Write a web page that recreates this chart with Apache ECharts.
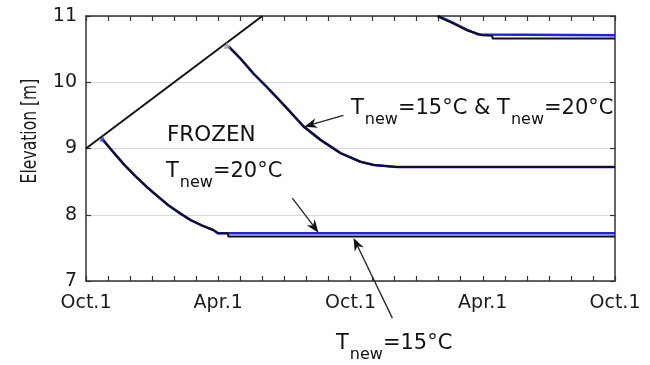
<!DOCTYPE html>
<html>
<head>
<meta charset="utf-8">
<style>
  html, body { margin: 0; padding: 0; background: #fff; }
  #chart { width: 650px; height: 365px; }
</style>
<script src="https://cdn.jsdelivr.net/npm/echarts@6/dist/echarts.min.js"></script>
</head>
<body>
<div id="chart"></div>
<script>
// Time axis: months after Oct.1, over two years
const xTickLabels = ['Oct.1', 'Apr.1', 'Oct.1', 'Apr.1', 'Oct.1'];
const yTicks = [7, 8, 9, 10, 11];

// Freezing front rising through the winter
const frostLine = [[0, 9.0], [8, 11.0]];

// First thaw (lower branch)
const lowT20 = [
  [0.77, 9.13], [1.25, 8.94], [1.75, 8.75], [2.25, 8.58], [2.76, 8.42],
  [3.25, 8.28], [3.75, 8.14], [4.27, 8.02], [4.75, 7.92], [5.25, 7.84],
  [5.77, 7.77], [6.0, 7.72], [24, 7.72]
];
const lowT15 = [
  [0.77, 9.13], [1.25, 8.94], [1.75, 8.75], [2.25, 8.58], [2.76, 8.42],
  [3.25, 8.28], [3.75, 8.14], [4.27, 8.02], [4.75, 7.92], [5.25, 7.84],
  [5.77, 7.77], [6.0, 7.72], [6.45, 7.72], [6.45, 7.67], [24, 7.67]
];

// Second thaw (middle branch), same for both temperatures
const midT20 = [
  [6.47, 10.54], [7.0, 10.36], [7.6, 10.13], [8.2, 9.93], [8.97, 9.66],
  [9.88, 9.33], [10.64, 9.13], [11.55, 8.93], [12.45, 8.80], [13.06, 8.75],
  [14.1, 8.72], [24, 8.72]
];
const midT15 = [
  [6.47, 10.54], [7.0, 10.36], [7.6, 10.13], [8.2, 9.93], [8.97, 9.66],
  [9.88, 9.33], [10.64, 9.13], [11.55, 8.93], [12.45, 8.80], [13.06, 8.75],
  [14.1, 8.72], [24, 8.72]
];

// Third thaw (upper branch)
const upT20 = [[15.95, 11.0], [16.7, 10.89], [17.3, 10.79], [17.8, 10.72], [24, 10.71]];
const upT15 = [
  [15.95, 11.0], [16.7, 10.88], [17.3, 10.78], [17.99, 10.71],
  [18.44, 10.70], [18.44, 10.66], [24, 10.66]
];

// Start points of the thaw curves
const startBlue = [[0.75, 9.15]];
const startGray = [[6.4, 10.56]];

// Annotation arrows: [tail, head] in data units
const arrows = [
  [[11.68, 9.50], [9.90, 9.33]],
  [[9.36, 8.25], [10.55, 7.73]],
  [[13.9, 6.44], [12.14, 7.65]]
];

const BLUE = '#1f1fff';
const BLACK = '#111';
const FONT = '"DejaVu Sans", Verdana, sans-serif';

function lineSeries(data, color, width) {
  return {
    type: 'line', data: data, showSymbol: false, symbol: 'none',
    lineStyle: { color: color, width: width }, z: 3,
    emphasis: { disabled: true }
  };
}

const axisCommon = {
  axisLine: { show: true, onZero: false, lineStyle: { color: '#333', width: 1.5 } },
  axisTick: { show: true, inside: true, length: 5, lineStyle: { color: '#333', width: 1.2 } }
};

const xBase = Object.assign({}, axisCommon, {
  type: 'value', min: 0, max: 24, interval: 6,
  minorTick: { show: true, splitNumber: 6, length: 5, lineStyle: { color: '#333', width: 1.2 } },
  splitLine: { show: false }
});

const yBase = Object.assign({}, axisCommon, {
  type: 'value', min: yTicks[0], max: yTicks[yTicks.length - 1], interval: 1
});

const richText = {
  m: { fontSize: 21, fontFamily: FONT, fill: BLACK, verticalAlign: 'top' },
  s: { fontSize: 16, fontFamily: FONT, fill: BLACK, verticalAlign: 'top', padding: [14, 0, 0, 1] }
};

function label(x, y, text) {
  return {
    type: 'text', x: x, y: y, z: 10,
    style: { text: text, rich: richText, fontFamily: FONT, fontSize: 21, fill: BLACK }
  };
}

const chart = echarts.init(document.getElementById('chart'), null, { renderer: 'canvas' });

chart.setOption({
  animation: false,
  backgroundColor: '#fff',
  grid: { left: 86, right: 35, top: 16, bottom: 84 },
  xAxis: [
    Object.assign({}, xBase, {
      position: 'bottom',
      axisLabel: {
        show: true, margin: 13, fontSize: 19, fontFamily: FONT, color: '#1a1a1a',
        formatter: function (v) { return xTickLabels[Math.round(v / 6)]; }
      }
    }),
    Object.assign({}, xBase, { position: 'top', axisLabel: { show: false } })
  ],
  yAxis: [
    Object.assign({}, yBase, {
      position: 'left',
      axisLabel: { show: true, margin: 9, fontSize: 19, fontFamily: FONT, color: '#1a1a1a' },
      splitLine: { show: true, lineStyle: { color: '#d9d9d9', width: 1.2 } }
    }),
    Object.assign({}, yBase, {
      position: 'right', axisLabel: { show: false }, splitLine: { show: false }
    })
  ],
  series: [
    lineSeries(frostLine, BLACK, 2),
    lineSeries(lowT20, BLUE, 2.6),
    lineSeries(lowT15, BLACK, 2),
    lineSeries(midT20, BLUE, 2.6),
    lineSeries(midT15, BLACK, 2),
    lineSeries(upT20, BLUE, 2.6),
    lineSeries(upT15, BLACK, 2),
    {
      type: 'scatter', data: startBlue, symbol: 'triangle', symbolSize: 6,
      itemStyle: { color: BLUE }, z: 4, silent: true
    },
    {
      type: 'scatter', data: startGray, symbol: 'triangle', symbolSize: 7,
      itemStyle: { color: '#999' }, z: 4, silent: true
    }
  ]
});

// Arrows drawn as graphics, placed through the grid's coordinate system
function arrowGraphics(tail, head) {
  const p0 = chart.convertToPixel({ gridIndex: 0 }, tail);
  const p1 = chart.convertToPixel({ gridIndex: 0 }, head);
  const dx = p1[0] - p0[0], dy = p1[1] - p0[1];
  const len = Math.sqrt(dx * dx + dy * dy);
  const ux = dx / len, uy = dy / len;
  const nx = -uy, ny = ux;
  const L = 13, W = 5, N = 9;
  const back = [p1[0] - L * ux, p1[1] - L * uy];
  const notch = [p1[0] - N * ux, p1[1] - N * uy];
  return [
    {
      type: 'line', z: 9, silent: true,
      shape: { x1: p0[0], y1: p0[1], x2: notch[0], y2: notch[1] },
      style: { stroke: '#222', lineWidth: 1.3 }
    },
    {
      type: 'polygon', z: 9, silent: true,
      shape: {
        points: [
          p1,
          [back[0] + W * nx, back[1] + W * ny],
          notch,
          [back[0] - W * nx, back[1] - W * ny]
        ]
      },
      style: { fill: '#111' }
    }
  ];
}

let graphics = [
  {
    type: 'text', x: 30, y: 131, rotation: Math.PI / 2, scaleX: 0.78, scaleY: 1.1, z: 10,
    style: {
      text: 'Elevation [m]', fontSize: 20, fontFamily: FONT, fill: '#1a1a1a',
      align: 'center', verticalAlign: 'middle'
    }
  },
  {
    type: 'text', x: 167, y: 124, z: 10,
    style: { text: 'FROZEN', fontSize: 21.5, fontFamily: FONT, fill: BLACK }
  },
  label(351, 98, '{m|T}{s|new}{m|=15°C & T}{s|new}{m|=20°C}'),
  label(166, 161, '{m|T}{s|new}{m|=20°C}'),
  label(336, 333, '{m|T}{s|new}{m|=15°C}')
];
arrows.forEach(function (a) { graphics = graphics.concat(arrowGraphics(a[0], a[1])); });

chart.setOption({ graphic: graphics });
</script>
</body>
</html>
